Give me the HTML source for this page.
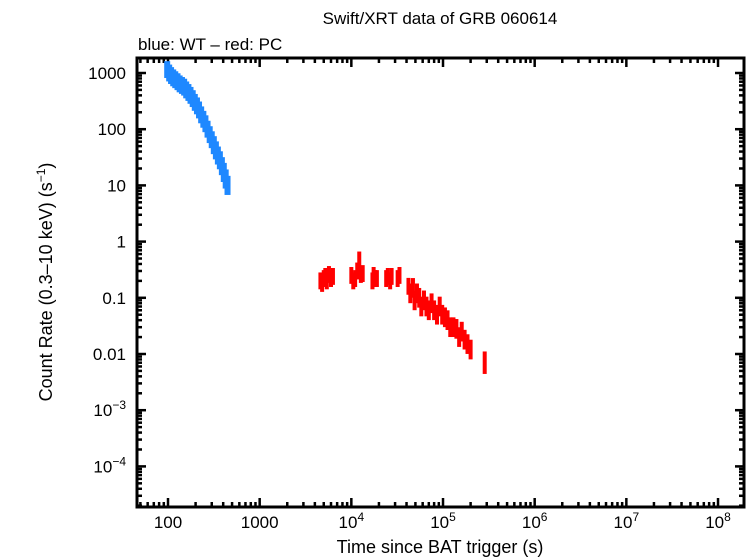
<!DOCTYPE html>
<html><head><meta charset="utf-8"><style>
body{margin:0;background:#fff;}
svg{display:block;font-family:"Liberation Sans",sans-serif;}
</style></head><body>
<svg id="chart" width="748" height="558" xmlns="http://www.w3.org/2000/svg">
<rect width="748" height="558" fill="#fff"/>
<text x="440" y="24" font-size="17" text-anchor="middle">Swift/XRT data of GRB 060614</text>
<text x="138" y="50" font-size="17">blue: WT – red: PC</text>
<g id="axes"></g>
<g id="marks"></g>
<rect x="137" y="58" width="607" height="449" fill="none" stroke="#000" stroke-width="3"/>
<text x="440" y="553" font-size="18" text-anchor="middle">Time since BAT trigger (s)</text>
<text transform="translate(52,282) rotate(-90)" font-size="18" text-anchor="middle">Count Rate (0.3–10 keV) (s<tspan dy="-7" font-size="12">−1</tspan><tspan dy="7">)</tspan></text>
</svg>
<script>
const xTickExps=[2,3,4,5,6,7,8];
const xTickLabels=["100","1000","10^4","10^5","10^6","10^7","10^8"];
const yTickExps=[3,2,1,0,-1,-2,-3,-4];
const yTickLabels=["1000","100","10","1","0.1","0.01","10^-3","10^-4"];
const wtTime=[98,103,108,114,120,127,134,142,150,158,167,176,186,196,207,218,230,243,256,270,285,300,316,333,350,368,387,406,426,446];
const wtRate=[1150,1000,900,820,760,700,640,600,560,500,450,400,350,300,260,220,180,150,125,100,80,65,52,42,34,28,22,17,13,10];
const wtErr=[0.3,0.3,0.3,0.3,0.3,0.3,0.3,0.3,0.3,0.3,0.3,0.3,0.3,0.3,0.3,0.3,0.3,0.3,0.3,0.3,0.3,0.3,0.32,0.32,0.32,0.32,0.32,0.34,0.34,0.34];
const pcTime=[4600,4800,5000,5200,5400,5700,6000,6300,10000,10500,11000,11600,12200,12700,13300,17000,17500,18200,19000,24000,25000,26500,27500,32000,33500,42000,44000,47000,49000,52000,55000,58000,62000,66000,70000,75000,80000,86000,92000,98000,105000,112000,120000,130000,140000,150000,160000,172000,185000,200000,285000];
const pcRate=[0.2,0.18,0.22,0.24,0.2,0.26,0.22,0.24,0.25,0.2,0.22,0.3,0.42,0.26,0.27,0.2,0.25,0.22,0.22,0.22,0.24,0.2,0.24,0.22,0.25,0.16,0.12,0.15,0.09,0.12,0.1,0.07,0.09,0.07,0.06,0.08,0.06,0.05,0.07,0.05,0.045,0.04,0.03,0.03,0.028,0.02,0.025,0.018,0.015,0.012,0.007];
const pcErr=[0.3,0.3,0.3,0.3,0.3,0.3,0.3,0.3,0.3,0.3,0.3,0.3,0.4,0.3,0.3,0.3,0.3,0.3,0.3,0.3,0.3,0.3,0.3,0.3,0.3,0.3,0.35,0.35,0.35,0.35,0.35,0.35,0.35,0.35,0.35,0.35,0.35,0.35,0.35,0.35,0.35,0.35,0.35,0.35,0.35,0.35,0.35,0.35,0.35,0.35,0.4];

const X0=168,XD=91.67,Y0=73,YD=56.2;
function xs(t){return X0+(Math.log10(t)-2)*XD;}
function ys(v){return Y0-(Math.log10(v)-3)*YD;}
const NS="http://www.w3.org/2000/svg";
function mk(tag,attrs,parent){const e=document.createElementNS(NS,tag);for(const k in attrs)e.setAttribute(k,attrs[k]);parent.appendChild(e);return e;}
const axes=document.getElementById('axes'),marks=document.getElementById('marks');
function lbl(s,x,y,anchor,name){
  const t=mk('text',{x:x,y:y,'font-size':17,'text-anchor':anchor},axes);
  
  
  if(s.indexOf('^')>=0){const p=s.split('^');t.appendChild(document.createTextNode(p[0]));const sp=mk('tspan',{dy:-7,'font-size':12},t);sp.textContent=p[1].replace('-','−');}
  else t.textContent=s;
}
for(let d=1;d<=8;d++){for(let m=1;m<10;m++){const v=Math.pow(10,d)*m;const x=xs(v);if(x<138||x>743)continue;const L=m===1?9:5;
 const a=mk('line',{x1:x,x2:x,y1:507,y2:507-L,stroke:'#000','stroke-width':2.5},axes);
 
 const b=mk('line',{x1:x,x2:x,y1:58,y2:58+L,stroke:'#000','stroke-width':2.5},axes);
 }}
xTickExps.forEach((e,i)=>lbl(xTickLabels[i],xs(Math.pow(10,e)),528,'middle','x-tick-label'));
for(let d=-5;d<=3;d++){for(let m=1;m<10;m++){const v=Math.pow(10,d)*m;const y=ys(v);if(y<59||y>506)continue;const L=m===1?9:5;
 const a=mk('line',{x1:137,x2:137+L,y1:y,y2:y,stroke:'#000','stroke-width':2.5},axes);
 
 const b=mk('line',{x1:744,x2:744-L,y1:y,y2:y,stroke:'#000','stroke-width':2.5},axes);
 }}
yTickExps.forEach((e,i)=>lbl(yTickLabels[i],126,ys(Math.pow(10,e))+6,'end','y-tick-label'));
function series(T,R,E,col,name,bw){
 T.forEach((t,i)=>{const x=xs(t);const lo=R[i]*Math.pow(10,-E[i]/2),hi=R[i]*Math.pow(10,E[i]/2);
  const g=mk('g',{},marks);
  
  
  mk('rect',{x:x-bw/2,y:ys(hi),width:bw,height:ys(lo)-ys(hi),fill:col},g);
 });
}
series(wtTime,wtRate,wtErr,'#1e88ff','wt-point',6);
series(pcTime,pcRate,pcErr,'#ff0000','pc-point',4);
</script>
</body></html>
